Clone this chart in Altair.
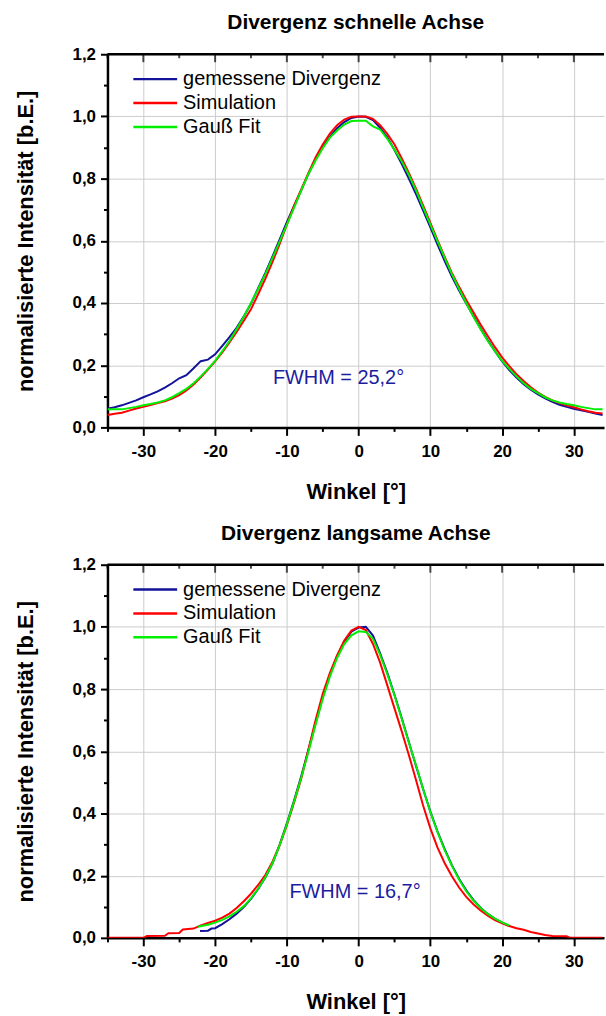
import altair as alt
import pandas as pd

FONT = "Liberation Sans"
SERIES = ["gemessene Divergenz", "Simulation", "Gauß Fit"]
COLORS = ["#12129a", "#ff0000", "#00ee00"]
NOTE_COLOR = "#1c1ca0"

# ---------------- Divergenz schnelle Achse ----------------
top_x = [-35, -34, -33, -32, -31, -30, -29, -28, -27, -26, -25, -24, -23, -22, -21,
         -20, -19, -18, -17, -16, -15, -14, -13, -12, -11, -10, -9, -8, -7, -6,
         -5, -4, -3, -2, -1, 0, 1, 2, 3, 4, 5, 6, 7, 8, 9,
         10, 11, 12, 13, 14, 15, 16, 17, 18, 19, 20, 21, 22, 23, 24,
         25, 26, 27, 28, 29, 30, 31, 32, 33, 34]
top_meas = [0.060, 0.065, 0.071, 0.079, 0.087, 0.097, 0.106, 0.116, 0.128, 0.142, 0.158, 0.168, 0.190, 0.213, 0.218,
            0.235, 0.262, 0.290, 0.320, 0.357, 0.398, 0.448, 0.497, 0.550, 0.605, 0.660, 0.712, 0.762, 0.815, 0.862,
            0.902, 0.935, 0.962, 0.982, 0.995, 1.000, 0.999, 0.988, 0.963, 0.932, 0.892, 0.848, 0.800, 0.750, 0.697,
            0.643, 0.588, 0.535, 0.485, 0.440, 0.398, 0.358, 0.318, 0.280, 0.245, 0.212, 0.184, 0.160, 0.139, 0.121,
            0.106, 0.093, 0.082, 0.073, 0.066, 0.060, 0.055, 0.050, 0.045, 0.040]
top_sim = [0.040, 0.044, 0.047, 0.054, 0.061, 0.066, 0.072, 0.078, 0.084, 0.093, 0.104, 0.119, 0.138, 0.161, 0.186,
           0.212, 0.241, 0.273, 0.307, 0.343, 0.380, 0.428, 0.478, 0.532, 0.590, 0.652, 0.712, 0.765, 0.818, 0.868,
           0.910, 0.945, 0.972, 0.990, 0.999, 1.000, 1.000, 0.992, 0.972, 0.944, 0.910, 0.866, 0.818, 0.768, 0.713,
           0.658, 0.602, 0.548, 0.497, 0.452, 0.410, 0.370, 0.331, 0.294, 0.258, 0.225, 0.197, 0.171, 0.149, 0.129,
           0.112, 0.098, 0.087, 0.078, 0.071, 0.065, 0.058, 0.052, 0.047, 0.045]
top_fit = [0.058, 0.058, 0.058, 0.062, 0.066, 0.071, 0.075, 0.080, 0.087, 0.097, 0.110, 0.124, 0.142, 0.164, 0.188,
           0.214, 0.245, 0.278, 0.316, 0.356, 0.400, 0.445, 0.493, 0.545, 0.598, 0.652, 0.706, 0.762, 0.815, 0.858,
           0.898, 0.932, 0.955, 0.974, 0.985, 0.986, 0.986, 0.968, 0.958, 0.928, 0.893, 0.856, 0.812, 0.762, 0.707,
           0.652, 0.598, 0.545, 0.493, 0.445, 0.400, 0.356, 0.316, 0.278, 0.245, 0.214, 0.188, 0.164, 0.142, 0.124,
           0.110, 0.097, 0.087, 0.080, 0.075, 0.071, 0.066, 0.062, 0.058, 0.058]

# ---------------- Divergenz langsame Achse ----------------
bot_sim_x = [-35, -30, -29.5, -27, -26.5, -25, -24.5, -23, -22, -21, -20, -19, -18, -17, -16,
             -15, -14, -13, -12, -11, -10, -9, -8, -7, -6, -5, -4, -3, -2, -1,
             0, 1, 2, 3, 4, 5, 6, 7, 8, 9, 10, 11, 12, 13, 14,
             15, 16, 17, 18, 19, 20, 21, 22, 23, 24, 25, 26, 27, 29, 29.5, 34]
bot_sim = [0.000, 0.000, 0.006, 0.007, 0.015, 0.016, 0.027, 0.030, 0.040, 0.048, 0.055, 0.065, 0.078, 0.096, 0.118,
           0.142, 0.170, 0.202, 0.245, 0.298, 0.362, 0.435, 0.512, 0.605, 0.700, 0.785, 0.852, 0.908, 0.956, 0.988,
           1.000, 0.990, 0.945, 0.885, 0.812, 0.738, 0.665, 0.588, 0.508, 0.425, 0.352, 0.290, 0.240, 0.198, 0.162,
           0.132, 0.108, 0.088, 0.071, 0.057, 0.047, 0.038, 0.031, 0.026, 0.019, 0.014, 0.009, 0.006, 0.005, 0.000, 0.000]
bot_fit_x = [-22.4, -21, -20, -19, -18, -17, -16, -15, -14, -13, -12, -11, -10, -9, -8,
             -7, -6, -5, -4, -3, -2, -1, 0, 1, 2, 3, 4, 5, 6, 7,
             8, 9, 10, 11, 12, 13, 14, 15, 16, 17, 18, 19, 20, 21]
bot_fit = [0.036, 0.042, 0.049, 0.058, 0.069, 0.084, 0.102, 0.127, 0.158, 0.195, 0.240, 0.298, 0.365, 0.438, 0.515,
           0.598, 0.685, 0.768, 0.840, 0.900, 0.945, 0.973, 0.986, 0.984, 0.962, 0.910, 0.848, 0.780, 0.705, 0.628,
           0.555, 0.478, 0.405, 0.340, 0.282, 0.232, 0.188, 0.150, 0.120, 0.096, 0.077, 0.062, 0.050, 0.040]
bot_meas_x = [-22.1, -21, -20.5, -20, -19, -18, -17, -16, -15, -14, -13, -12, -11, -10, -9,
              -8, -7, -6, -5, -4, -3, -2, -1, 0, 1, 2, 3, 4, 5, 6,
              7, 8, 9, 10, 11, 12, 13, 14, 15, 16, 17, 18, 19, 20, 21]
bot_meas = [0.022, 0.023, 0.030, 0.031, 0.044, 0.060, 0.078, 0.099, 0.125, 0.157, 0.194, 0.240, 0.300, 0.368, 0.442,
            0.520, 0.604, 0.690, 0.775, 0.846, 0.906, 0.952, 0.985, 0.998, 1.000, 0.972, 0.915, 0.852, 0.782, 0.708,
            0.630, 0.553, 0.478, 0.406, 0.342, 0.285, 0.234, 0.190, 0.153, 0.122, 0.097, 0.077, 0.061, 0.049, 0.038]

titles = ["Divergenz schnelle Achse", "Divergenz langsame Achse"]
notes = ["FWHM = 25,2°", "FWHM = 16,7°"]
note_x = [-2.8, -0.5]
note_y = [0.16, 0.147]

x_ticks = [-35, -30, -25, -20, -15, -10, -5, 0, 5, 10, 15, 20, 25, 30]
x_major = [-30, -20, -10, 0, 10, 20, 30]
x_minor = [-35, -25, -15, -5, 5, 15, 25]
y_ticks = [0.0, 0.1, 0.2, 0.3, 0.4, 0.5, 0.6, 0.7, 0.8, 0.9, 1.0, 1.1, 1.2]
X_DOMAIN = [-35, 34.2]
Y_DOMAIN = [0, 1.2]

MAJOR_X = "datum.value % 10 === 0"
MAJOR_Y = "round(datum.value * 10) % 2 === 0"
MINOR_DASH = [4, 30]


def frame(parts):
    rows = []
    for name, xs, ys in parts:
        for a, b in zip(xs, ys):
            rows.append({"x": a, "y": b, "series": name})
    return pd.DataFrame(rows)


XS = alt.Scale(domain=X_DOMAIN, nice=False, zero=False)
YS = alt.Scale(domain=Y_DOMAIN, nice=False)
X_AXIS = alt.Axis(
    orient="bottom", values=x_ticks, title="Winkel [°]",
    labelExpr=f"{MAJOR_X} ? '' + datum.value : ''",
    labelOverlap=False, labelFlush=False,
    tickSize=8,
    tickDash={"condition": {"test": MAJOR_X, "value": []}, "value": MINOR_DASH},
    gridOpacity={"condition": {"test": MAJOR_X, "value": 1}, "value": 0},
    grid=True, labelPadding=8, titlePadding=22,
)
Y_AXIS = alt.Axis(
    orient="left", values=y_ticks, title="normalisierte Intensität [b.E.]",
    labelExpr=f"{MAJOR_Y} ? replace(format(datum.value, '.1f'), '.', ',') : ''",
    labelOverlap=False, labelFlush=False,
    tickSize=7,
    tickDash={"condition": {"test": MAJOR_Y, "value": []}, "value": MINOR_DASH},
    gridOpacity={"condition": {"test": MAJOR_Y, "value": 1}, "value": 0},
    grid=True, labelPadding=5, titlePadding=35,
)


def xenc(field="x"):
    return alt.X(f"{field}:Q", scale=XS, axis=X_AXIS)


def yenc(field="y"):
    return alt.Y(f"{field}:Q", scale=YS, axis=Y_AXIS)


def panel(df, title, note, nx, ny):
    lines = alt.Chart(df).mark_line(strokeWidth=2, clip=True).encode(
        x=xenc(), y=yenc(),
        color=alt.Color(
            "series:N",
            scale=alt.Scale(domain=SERIES, range=COLORS),
            legend=alt.Legend(
                title=None, orient="none", legendX=38, legendY=15,
                symbolType="M-4.4,0H4.4", symbolSize=100, symbolStrokeWidth=2.5,
                labelFont=FONT, labelFontSize=20, labelFontWeight="normal",
                labelColor="black", labelOffset=18, rowPadding=4, padding=0,
                labelLimit=400,
            ),
        ),
    )
    note_df = pd.DataFrame({"x": [nx], "y": [ny], "t": [note]})
    text = alt.Chart(note_df).mark_text(
        font=FONT, fontSize=20, color=NOTE_COLOR, align="center", baseline="middle"
    ).encode(x=xenc(), y=yenc(), text="t:N")

    border_df = pd.DataFrame({"x": [X_DOMAIN[0]], "x2": [X_DOMAIN[1]], "y": [Y_DOMAIN[1]]})
    border = alt.Chart(border_df).mark_rule(color="black", strokeWidth=2.5).encode(
        x=xenc(), x2="x2:Q", y=yenc()
    )
    major_df = pd.DataFrame({"x": x_major, "y": [Y_DOMAIN[1]] * len(x_major)})
    minor_df = pd.DataFrame({"x": x_minor, "y": [Y_DOMAIN[1]] * len(x_minor)})
    top_major = alt.Chart(major_df).mark_tick(
        orient="vertical", size=8, thickness=2, yOffset=4, color="black"
    ).encode(x=xenc(), y=yenc())
    top_minor = alt.Chart(minor_df).mark_tick(
        orient="vertical", size=4, thickness=2, yOffset=2, color="black"
    ).encode(x=xenc(), y=yenc())

    return alt.layer(lines, text, border, top_major, top_minor).properties(
        width=499, height=375,
        title=alt.Title(title, font=FONT, fontSize=21, fontWeight="bold",
                        color="black", anchor="middle", offset=12),
    )


df_top = frame([(SERIES[0], top_x, top_meas), (SERIES[1], top_x, top_sim), (SERIES[2], top_x, top_fit)])
df_bot = frame([(SERIES[0], bot_meas_x, bot_meas), (SERIES[1], bot_sim_x, bot_sim), (SERIES[2], bot_fit_x, bot_fit)])

p1 = panel(df_top, titles[0], notes[0], note_x[0], note_y[0])
p2 = panel(df_bot, titles[1], notes[1], note_x[1], note_y[1])

chart = alt.vconcat(p1, p2, spacing=21).resolve_legend(color="independent").resolve_scale(
    color="independent"
).configure_axis(
    domainColor="black", domainWidth=2.5, tickColor="black", tickWidth=2,
    gridColor="#cccccc", gridWidth=1,
    labelFont=FONT, labelFontSize=17, labelFontWeight="bold", labelColor="black",
    titleFont=FONT, titleFontSize=22, titleFontWeight="bold", titleColor="black",
).configure_view(stroke=None).properties(
    padding={"left": 14, "top": 10, "right": 0, "bottom": 0}, background="white"
)

chart.save("out.html", embed_options={"renderer": "svg", "actions": False})
